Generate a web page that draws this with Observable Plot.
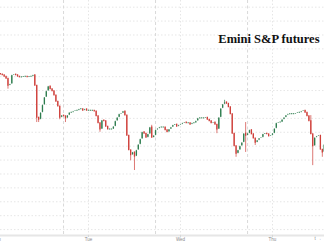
<!DOCTYPE html>
<html>
<head>
<meta charset="utf-8">
<script src="https://cdn.jsdelivr.net/npm/d3@7"></script>
<script src="https://cdn.jsdelivr.net/npm/@observablehq/plot@0.6"></script>
<style>
  html, body { margin: 0; padding: 0; background: #fff; }
  #chart { width: 324px; height: 242px; overflow: hidden; }
</style>
</head>
<body>
<div id="chart"></div>
<script>
// ---- data (hours since Monday 00:00; 30-minute candles) ----
const chartTitle = "Emini S&P futures";
const dayLabels = ["Mon", "Tue", "Wed", "Thu"];
const dayTickHours = [0, 24, 48, 72];
const sessionBreakHours = [17.5, 41.5, 65.5];
const priceGrid = [2860, 2865, 2870, 2875, 2880, 2885, 2890, 2895, 2900, 2905, 2910, 2915, 2920, 2925, 2930, 2935, 2940];
const xDomain = [1.05, 85.57];
const yDomain = [2857.87, 2942.4];
const firstHour = 1.0;
const candleStepHours = 0.5;
const firstOpen = 2916.0;
const closes = [
  2915.75, 2915.50, 2915.00, 2914.25, 2911.75, 2912.25, 2915.50, 2915.75, 2915.50, 2915.00,
  2914.75, 2914.75, 2915.00, 2915.00, 2914.75, 2915.00, 2915.00, 2915.50, 2911.75, 2900.25,
  2899.50, 2902.00, 2904.75, 2907.50, 2909.75, 2911.50, 2910.50, 2909.75, 2908.25, 2906.00,
  2904.25, 2900.25, 2901.00, 2900.75, 2900.00, 2901.00, 2902.00, 2902.00, 2902.50, 2902.75,
  2902.75, 2903.25, 2903.25, 2902.75, 2903.25, 2902.75, 2902.75, 2902.75, 2902.75, 2902.50,
  2900.75, 2898.25, 2896.00, 2899.25, 2899.00, 2897.00, 2896.00, 2896.00, 2896.00, 2897.00,
  2899.00, 2900.25, 2901.50, 2901.75, 2902.50, 2901.00, 2893.75, 2888.50, 2886.75, 2887.75,
  2886.25, 2888.50, 2890.50, 2892.50, 2895.00, 2894.50, 2893.00, 2894.25, 2896.75, 2893.00,
  2893.75, 2895.75, 2896.25, 2896.75, 2896.75, 2896.75, 2895.75, 2895.00, 2896.00, 2896.75,
  2897.50, 2897.75, 2897.00, 2897.50, 2897.75, 2898.25, 2898.50, 2898.25, 2898.25, 2897.75,
  2898.25, 2898.25, 2899.00, 2900.00, 2900.00, 2900.00, 2900.00, 2900.25, 2899.50, 2899.00,
  2898.25, 2898.50, 2897.75, 2896.00, 2900.25, 2903.50, 2905.00, 2905.75, 2905.25, 2904.00,
  2901.50, 2894.50, 2890.00, 2887.25, 2888.50, 2890.00, 2891.25, 2894.50, 2893.75, 2894.50,
  2895.75, 2894.25, 2892.75, 2891.25, 2892.00, 2892.75, 2893.00, 2894.25, 2894.50, 2894.25,
  2893.50, 2893.75, 2894.50, 2896.25, 2898.25, 2898.50, 2898.50, 2899.50, 2900.25, 2901.00,
  2901.50, 2901.50, 2901.50, 2901.50, 2901.75, 2902.00, 2902.00, 2902.50, 2902.75, 2902.00,
  2900.75, 2899.00, 2894.25, 2890.00, 2893.00, 2893.50, 2893.75, 2888.75, 2887.75, 2890.50
];
// notable wicks: candle index, high, low (null = body only)
const wickIdx  = [4,       19,      20,      31,      34,      52,      68,      70,      79,      113,     117,     123,     128,     133,     162,     163,     168];
const wickHigh = [null,    null,    null,    null,    null,    null,    null,    null,    2897.50, null,    2906.50, null,    2898.50, null,    2901.00, null,    null];
const wickLow  = [2910.50, 2898.50, 2898.50, 2899.50, 2898.50, 2895.00, 2884.75, 2881.25, null,    2894.50, null,    2886.00, 2887.75, 2890.25, null,    2883.00, 2886.00];

// ---- build candle table ----
const candles = closes.map((c, i) => {
  const open = i === 0 ? firstOpen : closes[i - 1];
  const k = wickIdx.indexOf(i);
  const hi = k >= 0 && wickHigh[k] != null ? wickHigh[k] : -Infinity;
  const lo = k >= 0 && wickLow[k] != null ? wickLow[k] : Infinity;
  return {
    t: firstHour + i * candleStepHours,
    open, close: c,
    high: Math.max(open, c, hi),
    low: Math.min(open, c, lo),
    up: c >= open
  };
});

const upColor = "#2e7d4f";
const downColor = "#cf3f3a";

const chart = Plot.plot({
  width: 324,
  height: 242,
  marginTop: 0,
  marginRight: 0,
  marginBottom: 7,
  marginLeft: 0,
  style: { background: "#fff", fontFamily: "Liberation Sans, sans-serif" },
  x: { domain: xDomain },
  y: { domain: yDomain, axis: null },
  marks: [
    Plot.ruleY(priceGrid, { stroke: "#e6e6e6", strokeDasharray: "1.5,2" }),
    Plot.ruleX(dayTickHours, { stroke: "#e6e6e6", strokeDasharray: "1.5,2" }),
    Plot.ruleX(sessionBreakHours, { stroke: "#d9d9d9", strokeDasharray: "3,2.5" }),
    Plot.ruleY([yDomain[0]], { stroke: "#e6e6e6", strokeWidth: 2 }),
    Plot.axisX(dayTickHours, {
      tickFormat: d => dayLabels[dayTickHours.indexOf(d)],
      tickSize: 2,
      tickPadding: 0.5,
      fontSize: 4.5,
      fill: "#8a8a8a",
      stroke: "#d6d6d6"
    }),
    Plot.ruleX(candles, {
      x: "t", y1: "low", y2: "high",
      stroke: d => d.up ? upColor : downColor,
      strokeWidth: 0.7
    }),
    Plot.ruleX(candles, {
      x: "t", y1: "open", y2: "close",
      stroke: d => d.up ? upColor : downColor,
      strokeWidth: 1.3,
      insetTop: -0.5, insetBottom: -0.5
    }),
    Plot.text([chartTitle], {
      frameAnchor: "top-right",
      text: d => d,
      textAnchor: "end",
      dx: -5,
      dy: 33.5,
      fontFamily: "Liberation Serif, Times New Roman, serif",
      fontWeight: "bold",
      fontSize: 12.5,
      fill: "#111"
    })
  ]
});
document.getElementById("chart").appendChild(chart);
</script>
</body>
</html>
